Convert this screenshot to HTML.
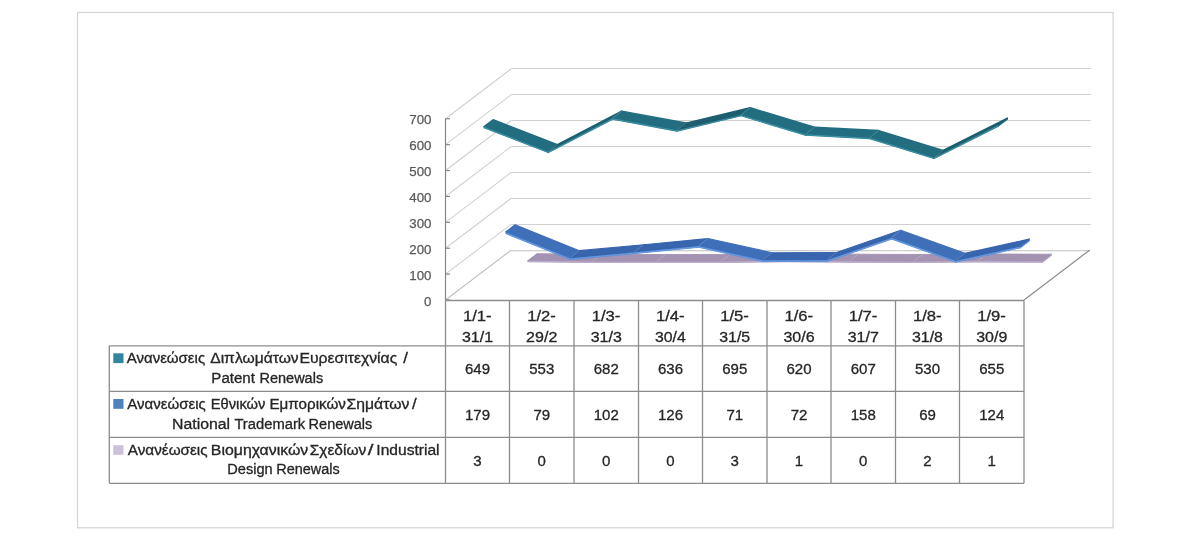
<!DOCTYPE html>
<html><head><meta charset="utf-8"><title>Chart</title>
<style>
html,body{margin:0;padding:0;background:#fff;}
body{width:1200px;height:536px;overflow:hidden;font-family:"Liberation Sans",sans-serif;}
svg{display:block;will-change:transform;}
</style></head><body>
<svg width="1200" height="536" viewBox="0 0 1200 536">
<rect x="0" y="0" width="1200" height="536" fill="#fff"/>
<rect x="77.5" y="12.5" width="1035.6" height="515.3" fill="none" stroke="#d4d4d4" stroke-width="1.2"/>
<g stroke="#d0d0d0" stroke-width="1.1" fill="none"><line x1="445.50" y1="274.11" x2="511.30" y2="224.11"/><line x1="511.30" y1="224.50" x2="1091.00" y2="224.50"/><line x1="445.50" y1="248.22" x2="511.30" y2="198.22"/><line x1="511.30" y1="198.50" x2="1091.00" y2="198.50"/><line x1="445.50" y1="222.33" x2="511.30" y2="172.33"/><line x1="511.30" y1="172.50" x2="1091.00" y2="172.50"/><line x1="445.50" y1="196.44" x2="511.30" y2="146.44"/><line x1="511.30" y1="146.50" x2="1091.00" y2="146.50"/><line x1="445.50" y1="170.55" x2="511.30" y2="120.55"/><line x1="511.30" y1="120.50" x2="1091.00" y2="120.50"/><line x1="445.50" y1="144.66" x2="511.30" y2="94.66"/><line x1="511.30" y1="94.50" x2="1091.00" y2="94.50"/><line x1="445.50" y1="118.77" x2="511.30" y2="68.77"/><line x1="511.30" y1="68.50" x2="1091.00" y2="68.50"/></g>
<g stroke="#c0c0c0" stroke-width="1.1" fill="none"><line x1="511.30" y1="250.80" x2="1089.80" y2="250.80"/><line x1="445.50" y1="300.00" x2="511.30" y2="250.00"/></g>
<line x1="1024.00" y1="300.00" x2="1089.80" y2="250.00" stroke="#8c8c8c" stroke-width="1.2"/>
<polygon points="527.93,260.61 592.21,261.38 592.21,262.48 527.93,261.71" fill="#b3a3c3" stroke="#b3a3c3" stroke-width="1.2" stroke-linejoin="round"/><polygon points="592.21,261.38 656.49,261.38 656.49,262.48 592.21,262.48" fill="#b3a3c3" stroke="#b3a3c3" stroke-width="1.2" stroke-linejoin="round"/><polygon points="656.49,261.38 720.77,261.38 720.77,262.48 656.49,262.48" fill="#b3a3c3" stroke="#b3a3c3" stroke-width="1.2" stroke-linejoin="round"/><polygon points="720.77,261.38 785.04,260.61 785.04,261.71 720.77,262.48" fill="#b3a3c3" stroke="#b3a3c3" stroke-width="1.2" stroke-linejoin="round"/><polygon points="785.04,260.61 849.32,261.12 849.32,262.22 785.04,261.71" fill="#b3a3c3" stroke="#b3a3c3" stroke-width="1.2" stroke-linejoin="round"/><polygon points="849.32,261.12 913.60,261.38 913.60,262.48 849.32,262.22" fill="#b3a3c3" stroke="#b3a3c3" stroke-width="1.2" stroke-linejoin="round"/><polygon points="913.60,261.38 977.88,260.87 977.88,261.97 913.60,262.48" fill="#b3a3c3" stroke="#b3a3c3" stroke-width="1.2" stroke-linejoin="round"/><polygon points="977.88,260.87 1042.15,261.12 1042.15,262.22 977.88,261.97" fill="#b3a3c3" stroke="#b3a3c3" stroke-width="1.2" stroke-linejoin="round"/><polygon points="527.93,260.61 537.01,253.71 537.01,254.81 527.93,261.71" fill="#b3a3c3"/><polygon points="1042.15,261.12 1051.23,254.22 1051.23,255.32 1042.15,262.22" fill="#b3a3c3" stroke="#b3a3c3" stroke-width="1.2" stroke-linejoin="round"/><polygon points="527.93,260.61 592.21,261.38 601.29,254.48 537.01,253.71" fill="#a392b1" stroke="#a392b1" stroke-width="0.90" stroke-linejoin="round"/><polygon points="592.21,261.38 656.49,261.38 665.57,254.48 601.29,254.48" fill="#a392b1" stroke="#a392b1" stroke-width="0.90" stroke-linejoin="round"/><polygon points="656.49,261.38 720.77,261.38 729.85,254.48 665.57,254.48" fill="#a392b1" stroke="#a392b1" stroke-width="0.90" stroke-linejoin="round"/><polygon points="720.77,261.38 785.04,260.61 794.12,253.71 729.85,254.48" fill="#a392b1" stroke="#a392b1" stroke-width="0.90" stroke-linejoin="round"/><polygon points="785.04,260.61 849.32,261.12 858.40,254.22 794.12,253.71" fill="#a392b1" stroke="#a392b1" stroke-width="0.90" stroke-linejoin="round"/><polygon points="849.32,261.12 913.60,261.38 922.68,254.48 858.40,254.22" fill="#a392b1" stroke="#a392b1" stroke-width="0.90" stroke-linejoin="round"/><polygon points="913.60,261.38 977.88,260.87 986.96,253.97 922.68,254.48" fill="#a392b1" stroke="#a392b1" stroke-width="0.90" stroke-linejoin="round"/><polygon points="977.88,260.87 1042.15,261.12 1051.23,254.22 986.96,253.97" fill="#a392b1" stroke="#a392b1" stroke-width="0.90" stroke-linejoin="round"/><line x1="592.21" y1="261.38" x2="601.29" y2="254.48" stroke="#ffffff" stroke-opacity="0.22" stroke-width="0.9"/><line x1="656.49" y1="261.38" x2="665.57" y2="254.48" stroke="#ffffff" stroke-opacity="0.22" stroke-width="0.9"/><line x1="720.77" y1="261.38" x2="729.85" y2="254.48" stroke="#ffffff" stroke-opacity="0.22" stroke-width="0.9"/><line x1="785.04" y1="260.61" x2="794.12" y2="253.71" stroke="#ffffff" stroke-opacity="0.22" stroke-width="0.9"/><line x1="849.32" y1="261.12" x2="858.40" y2="254.22" stroke="#ffffff" stroke-opacity="0.22" stroke-width="0.9"/><line x1="913.60" y1="261.38" x2="922.68" y2="254.48" stroke="#ffffff" stroke-opacity="0.22" stroke-width="0.9"/><line x1="977.88" y1="260.87" x2="986.96" y2="253.97" stroke="#ffffff" stroke-opacity="0.22" stroke-width="0.9"/><polyline points="527.93,261.41 592.21,262.18 656.49,262.18 720.77,262.18 785.04,261.41 849.32,261.92 913.60,262.18 977.88,261.67 1042.15,261.92" fill="none" stroke="#c4b6d4" stroke-width="1.2" stroke-opacity="0.6" stroke-linejoin="round"/>
<polygon points="506.00,231.71 570.28,257.60 570.28,259.40 506.00,233.51" fill="#5487d4" stroke="#5487d4" stroke-width="1.2" stroke-linejoin="round"/><polygon points="570.28,257.60 634.55,251.64 634.55,253.44 570.28,259.40" fill="#5487d4" stroke="#5487d4" stroke-width="1.2" stroke-linejoin="round"/><polygon points="634.55,251.64 698.83,245.43 698.83,247.23 634.55,253.44" fill="#5487d4" stroke="#5487d4" stroke-width="1.2" stroke-linejoin="round"/><polygon points="698.83,245.43 763.11,259.67 763.11,261.47 698.83,247.23" fill="#5487d4" stroke="#5487d4" stroke-width="1.2" stroke-linejoin="round"/><polygon points="763.11,259.67 827.39,259.41 827.39,261.21 763.11,261.47" fill="#5487d4" stroke="#5487d4" stroke-width="1.2" stroke-linejoin="round"/><polygon points="827.39,259.41 891.67,237.14 891.67,238.94 827.39,261.21" fill="#5487d4" stroke="#5487d4" stroke-width="1.2" stroke-linejoin="round"/><polygon points="891.67,237.14 955.94,260.19 955.94,261.99 891.67,238.94" fill="#5487d4" stroke="#5487d4" stroke-width="1.2" stroke-linejoin="round"/><polygon points="955.94,260.19 1020.22,245.95 1020.22,247.75 955.94,261.99" fill="#5487d4" stroke="#5487d4" stroke-width="1.2" stroke-linejoin="round"/><polygon points="506.00,231.71 515.08,224.81 515.08,226.61 506.00,233.51" fill="#5487d4"/><polygon points="1020.22,245.95 1029.30,239.05 1029.30,240.85 1020.22,247.75" fill="#5487d4" stroke="#5487d4" stroke-width="1.2" stroke-linejoin="round"/><polygon points="506.00,231.71 570.28,257.60 579.36,250.70 515.08,224.81" fill="#3f6fb9" stroke="#3f6fb9" stroke-width="1.20" stroke-linejoin="round"/><polygon points="570.28,257.60 634.55,251.64 643.63,244.74 579.36,250.70" fill="#3865ad" stroke="#3865ad" stroke-width="1.20" stroke-linejoin="round"/><polygon points="634.55,251.64 698.83,245.43 707.91,238.53 643.63,244.74" fill="#3865ad" stroke="#3865ad" stroke-width="1.20" stroke-linejoin="round"/><polygon points="698.83,245.43 763.11,259.67 772.19,252.77 707.91,238.53" fill="#3f6fb9" stroke="#3f6fb9" stroke-width="1.20" stroke-linejoin="round"/><polygon points="763.11,259.67 827.39,259.41 836.47,252.51 772.19,252.77" fill="#3865ad" stroke="#3865ad" stroke-width="1.20" stroke-linejoin="round"/><polygon points="827.39,259.41 891.67,237.14 900.75,230.24 836.47,252.51" fill="#3865ad" stroke="#3865ad" stroke-width="1.20" stroke-linejoin="round"/><polygon points="891.67,237.14 955.94,260.19 965.02,253.29 900.75,230.24" fill="#3f6fb9" stroke="#3f6fb9" stroke-width="1.20" stroke-linejoin="round"/><polygon points="955.94,260.19 1020.22,245.95 1029.30,239.05 965.02,253.29" fill="#3865ad" stroke="#3865ad" stroke-width="1.20" stroke-linejoin="round"/><line x1="570.28" y1="257.60" x2="579.36" y2="250.70" stroke="#ffffff" stroke-opacity="0.22" stroke-width="0.9"/><line x1="634.55" y1="251.64" x2="643.63" y2="244.74" stroke="#ffffff" stroke-opacity="0.22" stroke-width="0.9"/><line x1="698.83" y1="245.43" x2="707.91" y2="238.53" stroke="#ffffff" stroke-opacity="0.22" stroke-width="0.9"/><line x1="763.11" y1="259.67" x2="772.19" y2="252.77" stroke="#ffffff" stroke-opacity="0.22" stroke-width="0.9"/><line x1="827.39" y1="259.41" x2="836.47" y2="252.51" stroke="#ffffff" stroke-opacity="0.22" stroke-width="0.9"/><line x1="891.67" y1="237.14" x2="900.75" y2="230.24" stroke="#ffffff" stroke-opacity="0.22" stroke-width="0.9"/><line x1="955.94" y1="260.19" x2="965.02" y2="253.29" stroke="#ffffff" stroke-opacity="0.22" stroke-width="0.9"/><polyline points="506.00,233.21 570.28,259.10 634.55,253.14 698.83,246.93 763.11,261.17 827.39,260.91 891.67,238.64 955.94,261.69 1020.22,247.45" fill="none" stroke="#72a3e8" stroke-width="1.2" stroke-opacity="0.6" stroke-linejoin="round"/>
<polygon points="484.07,126.59 548.34,151.44 548.34,152.54 484.07,127.69" fill="#267689" stroke="#267689" stroke-width="1.2" stroke-linejoin="round"/><polygon points="548.34,151.44 612.62,118.05 612.62,119.15 548.34,152.54" fill="#267689" stroke="#267689" stroke-width="1.2" stroke-linejoin="round"/><polygon points="612.62,118.05 676.90,129.96 676.90,131.06 612.62,119.15" fill="#267689" stroke="#267689" stroke-width="1.2" stroke-linejoin="round"/><polygon points="676.90,129.96 741.18,114.68 741.18,115.78 676.90,131.06" fill="#267689" stroke="#267689" stroke-width="1.2" stroke-linejoin="round"/><polygon points="741.18,114.68 805.45,134.10 805.45,135.20 741.18,115.78" fill="#267689" stroke="#267689" stroke-width="1.2" stroke-linejoin="round"/><polygon points="805.45,134.10 869.73,137.46 869.73,138.56 805.45,135.20" fill="#267689" stroke="#267689" stroke-width="1.2" stroke-linejoin="round"/><polygon points="869.73,137.46 934.01,157.40 934.01,158.50 869.73,138.56" fill="#267689" stroke="#267689" stroke-width="1.2" stroke-linejoin="round"/><polygon points="934.01,157.40 998.29,125.04 998.29,126.14 934.01,158.50" fill="#267689" stroke="#267689" stroke-width="1.2" stroke-linejoin="round"/><polygon points="484.07,126.59 493.15,119.69 493.15,120.79 484.07,127.69" fill="#267689"/><polygon points="998.29,125.04 1007.37,118.14 1007.37,119.24 998.29,126.14" fill="#267689" stroke="#267689" stroke-width="1.2" stroke-linejoin="round"/><polygon points="484.07,126.59 548.34,151.44 557.42,144.54 493.15,119.69" fill="#236d80" stroke="#236d80" stroke-width="1.40" stroke-linejoin="round"/><polygon points="548.34,151.44 612.62,118.05 621.70,111.15 557.42,144.54" fill="#1d5f70" stroke="#1d5f70" stroke-width="1.40" stroke-linejoin="round"/><polygon points="612.62,118.05 676.90,129.96 685.98,123.06 621.70,111.15" fill="#236d80" stroke="#236d80" stroke-width="1.40" stroke-linejoin="round"/><polygon points="676.90,129.96 741.18,114.68 750.26,107.78 685.98,123.06" fill="#1d5f70" stroke="#1d5f70" stroke-width="1.40" stroke-linejoin="round"/><polygon points="741.18,114.68 805.45,134.10 814.53,127.20 750.26,107.78" fill="#236d80" stroke="#236d80" stroke-width="1.40" stroke-linejoin="round"/><polygon points="805.45,134.10 869.73,137.46 878.81,130.56 814.53,127.20" fill="#236d80" stroke="#236d80" stroke-width="1.40" stroke-linejoin="round"/><polygon points="869.73,137.46 934.01,157.40 943.09,150.50 878.81,130.56" fill="#236d80" stroke="#236d80" stroke-width="1.40" stroke-linejoin="round"/><polygon points="934.01,157.40 998.29,125.04 1007.37,118.14 943.09,150.50" fill="#1d5f70" stroke="#1d5f70" stroke-width="1.40" stroke-linejoin="round"/><line x1="548.34" y1="151.44" x2="557.42" y2="144.54" stroke="#ffffff" stroke-opacity="0.22" stroke-width="0.9"/><line x1="612.62" y1="118.05" x2="621.70" y2="111.15" stroke="#ffffff" stroke-opacity="0.22" stroke-width="0.9"/><line x1="676.90" y1="129.96" x2="685.98" y2="123.06" stroke="#ffffff" stroke-opacity="0.22" stroke-width="0.9"/><line x1="741.18" y1="114.68" x2="750.26" y2="107.78" stroke="#ffffff" stroke-opacity="0.22" stroke-width="0.9"/><line x1="805.45" y1="134.10" x2="814.53" y2="127.20" stroke="#ffffff" stroke-opacity="0.22" stroke-width="0.9"/><line x1="869.73" y1="137.46" x2="878.81" y2="130.56" stroke="#ffffff" stroke-opacity="0.22" stroke-width="0.9"/><line x1="934.01" y1="157.40" x2="943.09" y2="150.50" stroke="#ffffff" stroke-opacity="0.22" stroke-width="0.9"/><polyline points="484.07,127.39 548.34,152.24 612.62,118.85 676.90,130.76 741.18,115.48 805.45,134.90 869.73,138.26 934.01,158.20 998.29,125.84" fill="none" stroke="#4fa9bd" stroke-width="1.2" stroke-opacity="0.6" stroke-linejoin="round"/>
<g stroke="#868686" stroke-width="1.2"><line x1="445.50" y1="118.77" x2="445.50" y2="300.00"/><line x1="445.50" y1="300.00" x2="450.00" y2="300.00"/><line x1="445.50" y1="274.11" x2="450.00" y2="274.11"/><line x1="445.50" y1="248.22" x2="450.00" y2="248.22"/><line x1="445.50" y1="222.33" x2="450.00" y2="222.33"/><line x1="445.50" y1="196.44" x2="450.00" y2="196.44"/><line x1="445.50" y1="170.55" x2="450.00" y2="170.55"/><line x1="445.50" y1="144.66" x2="450.00" y2="144.66"/><line x1="445.50" y1="118.77" x2="450.00" y2="118.77"/></g>
<g font-family="Liberation Sans, sans-serif" font-size="13.3" fill="#595959" stroke="#595959" stroke-width="0.25" text-anchor="end"><text x="431.5" y="305.60">0</text><text x="431.5" y="279.71">100</text><text x="431.5" y="253.82">200</text><text x="431.5" y="227.93">300</text><text x="431.5" y="202.04">400</text><text x="431.5" y="176.15">500</text><text x="431.5" y="150.26">600</text><text x="431.5" y="124.37">700</text></g>
<g stroke="#8c8c8c" stroke-width="1.3"><line x1="445.50" y1="300.50" x2="1024.00" y2="300.50"/><line x1="109.30" y1="345.80" x2="1024.00" y2="345.80"/><line x1="109.30" y1="391.30" x2="1024.00" y2="391.30"/><line x1="109.30" y1="437.40" x2="1024.00" y2="437.40"/><line x1="109.30" y1="483.30" x2="1024.00" y2="483.30"/><line x1="445.50" y1="300.50" x2="445.50" y2="483.30"/><line x1="509.50" y1="300.50" x2="509.50" y2="483.30"/><line x1="574.00" y1="300.50" x2="574.00" y2="483.30"/><line x1="638.50" y1="300.50" x2="638.50" y2="483.30"/><line x1="702.50" y1="300.50" x2="702.50" y2="483.30"/><line x1="767.00" y1="300.50" x2="767.00" y2="483.30"/><line x1="831.00" y1="300.50" x2="831.00" y2="483.30"/><line x1="895.50" y1="300.50" x2="895.50" y2="483.30"/><line x1="959.50" y1="300.50" x2="959.50" y2="483.30"/><line x1="1024.00" y1="300.50" x2="1024.00" y2="483.30"/><line x1="109.30" y1="345.80" x2="109.30" y2="483.30"/></g>
<g font-family="Liberation Sans, sans-serif" font-size="15" fill="#262626" stroke="#262626" stroke-width="0.3"><text x="462.93" y="321.2" textLength="28.68" lengthAdjust="spacingAndGlyphs">1/1-</text><text x="462.01" y="341.6" textLength="31.07" lengthAdjust="spacingAndGlyphs">31/1</text><text x="477.50" y="373.80" text-anchor="middle">649</text><text x="477.50" y="420.00" text-anchor="middle">179</text><text x="477.50" y="465.70" text-anchor="middle">3</text><text x="527.18" y="321.2" textLength="28.68" lengthAdjust="spacingAndGlyphs">1/2-</text><text x="526.10" y="341.6" textLength="31.24" lengthAdjust="spacingAndGlyphs">29/2</text><text x="541.75" y="373.80" text-anchor="middle">553</text><text x="541.75" y="420.00" text-anchor="middle">79</text><text x="541.75" y="465.70" text-anchor="middle">0</text><text x="591.68" y="321.2" textLength="28.68" lengthAdjust="spacingAndGlyphs">1/3-</text><text x="590.76" y="341.6" textLength="31.07" lengthAdjust="spacingAndGlyphs">31/3</text><text x="606.25" y="373.80" text-anchor="middle">682</text><text x="606.25" y="420.00" text-anchor="middle">102</text><text x="606.25" y="465.70" text-anchor="middle">0</text><text x="655.93" y="321.2" textLength="28.68" lengthAdjust="spacingAndGlyphs">1/4-</text><text x="655.02" y="341.6" textLength="30.74" lengthAdjust="spacingAndGlyphs">30/4</text><text x="670.50" y="373.80" text-anchor="middle">636</text><text x="670.50" y="420.00" text-anchor="middle">126</text><text x="670.50" y="465.70" text-anchor="middle">0</text><text x="720.18" y="321.2" textLength="28.68" lengthAdjust="spacingAndGlyphs">1/5-</text><text x="719.26" y="341.6" textLength="30.91" lengthAdjust="spacingAndGlyphs">31/5</text><text x="734.75" y="373.80" text-anchor="middle">695</text><text x="734.75" y="420.00" text-anchor="middle">71</text><text x="734.75" y="465.70" text-anchor="middle">3</text><text x="784.43" y="321.2" textLength="28.68" lengthAdjust="spacingAndGlyphs">1/6-</text><text x="783.51" y="341.6" textLength="31.07" lengthAdjust="spacingAndGlyphs">30/6</text><text x="799.00" y="373.80" text-anchor="middle">620</text><text x="799.00" y="420.00" text-anchor="middle">72</text><text x="799.00" y="465.70" text-anchor="middle">1</text><text x="848.68" y="321.2" textLength="28.68" lengthAdjust="spacingAndGlyphs">1/7-</text><text x="847.76" y="341.6" textLength="31.07" lengthAdjust="spacingAndGlyphs">31/7</text><text x="863.25" y="373.80" text-anchor="middle">607</text><text x="863.25" y="420.00" text-anchor="middle">158</text><text x="863.25" y="465.70" text-anchor="middle">0</text><text x="912.93" y="321.2" textLength="28.68" lengthAdjust="spacingAndGlyphs">1/8-</text><text x="912.01" y="341.6" textLength="30.91" lengthAdjust="spacingAndGlyphs">31/8</text><text x="927.50" y="373.80" text-anchor="middle">530</text><text x="927.50" y="420.00" text-anchor="middle">69</text><text x="927.50" y="465.70" text-anchor="middle">2</text><text x="977.18" y="321.2" textLength="28.68" lengthAdjust="spacingAndGlyphs">1/9-</text><text x="976.26" y="341.6" textLength="31.07" lengthAdjust="spacingAndGlyphs">30/9</text><text x="991.75" y="373.80" text-anchor="middle">655</text><text x="991.75" y="420.00" text-anchor="middle">124</text><text x="991.75" y="465.70" text-anchor="middle">1</text></g>
<g font-family="Liberation Sans, sans-serif" font-size="14.0" fill="#262626" stroke="#262626" stroke-width="0.3"><text x="126.70" y="363.30" textLength="78.46" lengthAdjust="spacingAndGlyphs">Ανανεώσεις</text><text x="210.23" y="363.30" textLength="88.42" lengthAdjust="spacingAndGlyphs">Διπλωμάτων</text><text x="299.44" y="363.30" textLength="97.82" lengthAdjust="spacingAndGlyphs">Ευρεσιτεχνίας</text><text x="403.30" y="363.30" textLength="4.66" lengthAdjust="spacingAndGlyphs">/</text><text x="211.39" y="382.90" textLength="43.57" lengthAdjust="spacingAndGlyphs">Patent</text><text x="259.54" y="382.90" textLength="63.61" lengthAdjust="spacingAndGlyphs">Renewals</text><text x="127.30" y="408.90" textLength="78.46" lengthAdjust="spacingAndGlyphs">Ανανεώσεις</text><text x="210.83" y="408.90" textLength="54.52" lengthAdjust="spacingAndGlyphs">Εθνικών</text><text x="269.48" y="408.90" textLength="76.50" lengthAdjust="spacingAndGlyphs">Εμπορικών</text><text x="346.51" y="408.90" textLength="62.82" lengthAdjust="spacingAndGlyphs">Σημάτων</text><text x="412.00" y="408.90" textLength="4.66" lengthAdjust="spacingAndGlyphs">/</text><text x="172.03" y="428.70" textLength="58.10" lengthAdjust="spacingAndGlyphs">National</text><text x="234.40" y="428.70" textLength="70.85" lengthAdjust="spacingAndGlyphs">Trademark</text><text x="308.64" y="428.70" textLength="63.61" lengthAdjust="spacingAndGlyphs">Renewals</text><text x="127.80" y="454.80" textLength="79.77" lengthAdjust="spacingAndGlyphs">Ανανέωσεις</text><text x="210.83" y="454.80" textLength="97.48" lengthAdjust="spacingAndGlyphs">Βιομηχανικών</text><text x="309.72" y="454.80" textLength="56.57" lengthAdjust="spacingAndGlyphs">Σχεδίων</text><text x="367.80" y="454.80" textLength="5.66" lengthAdjust="spacingAndGlyphs">/</text><text x="376.30" y="454.80" textLength="63.30" lengthAdjust="spacingAndGlyphs">Industrial</text><text x="227.33" y="474.40" textLength="45.38" lengthAdjust="spacingAndGlyphs">Design</text><text x="276.24" y="474.40" textLength="63.40" lengthAdjust="spacingAndGlyphs">Renewals</text></g>
<rect x="113.3" y="353.3" width="10.2" height="9.8" fill="#31859c"/>
<rect x="113.3" y="399.0" width="10.2" height="9.8" fill="#4f81bd"/>
<rect x="113.3" y="445.2" width="10.2" height="9.6" fill="#ccc1da"/>
</svg>
</body></html>
